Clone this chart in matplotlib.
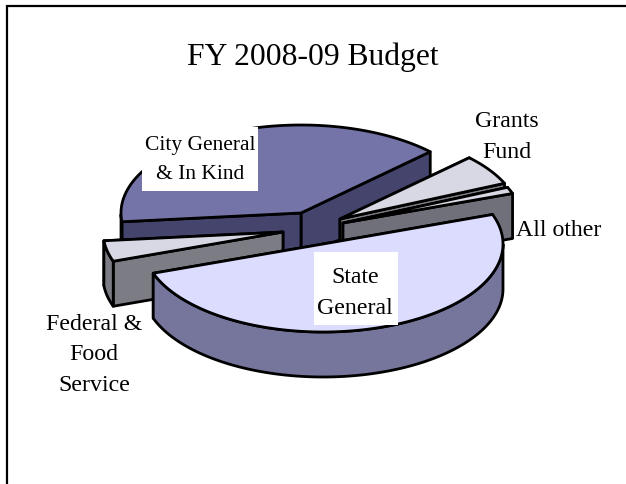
import numpy as np
from matplotlib import pyplot as plt
from matplotlib.patches import Polygon, Rectangle

plt.rcParams['font.family'] = ['Liberation Serif', 'DejaVu Serif']
plt.rcParams['hatch.linewidth'] = 0.35

# Share of the budget, percent
categories = ['State General', 'Federal & Food Service', 'City General & In Kind', 'Grants Fund', 'All other']
shares = [50.0, 3.8, 39.3, 5.6, 1.2]

# Pixel layout of the exploded pie
start_angle = 19.6
rx, ry, depth = 180, 88, 45
centers = {
    'State General': (323, 245),
    'Federal & Food Service': (283, 233),
    'City General & In Kind': (301, 214),
    'Grants Fund': (340, 220),
    'All other': (343, 224),
}
top_colors = {
    'State General': '#dcdcff',
    'Federal & Food Service': '#d8d8e4',
    'City General & In Kind': '#7474a8',
    'Grants Fund': '#d8d8e4',
    'All other': '#d8d8e4',
}
side_colors = {
    'State General': '#76769c',
    'Federal & Food Service': '#7c7c84',
    'City General & In Kind': '#44446c',
    'Grants Fund': '#7c7c84',
    'All other': '#70707a',
}
hatched = ['Federal & Food Service', 'Grants Fund', 'All other']
draw_order = ['City General & In Kind', 'Grants Fund', 'All other', 'Federal & Food Service', 'State General']

# slice angles, clockwise from the start angle
total = sum(shares)
ends = start_angle - np.cumsum(shares) * 360 / total
starts = np.concatenate([[start_angle], ends[:-1]])
spans = {c: (s, e) for c, s, e in zip(categories, starts, ends)}


def rim(center, a1, a2):
    t = np.radians(np.linspace(a1, a2, 120))
    return np.column_stack([center[0] + rx * np.cos(t), center[1] - ry * np.sin(t)])


fig = plt.figure(figsize=(6.26, 4.85), dpi=100)
ax = fig.add_axes([0, 0, 1, 1])
ax.set_xlim(0, 626)
ax.set_ylim(485, 0)
ax.axis('off')

# slide frame: only the top and left edges are in the image
ax.plot([7, 7, 626], [485, 7, 7], color='black', lw=1.6, solid_joinstyle='miter')

outline = dict(fc='none', ec='black', lw=2.0, joinstyle='round')
for name in draw_order:
    a1, a2 = spans[name]
    c = np.array(centers[name], dtype=float)
    h = '.' * 8 if name in hatched else None
    arc = rim(c, a1, a2)
    down = np.array([0, depth])
    # the two cut faces, far one first
    faces = [np.array([c, arc[0], arc[0] + down, c + down]),
             np.array([c, arc[-1], arc[-1] + down, c + down])]
    faces.sort(key=lambda f: f[1][1])
    for f in faces:
        ax.add_patch(Polygon(f, fc=side_colors[name], ec='none', hatch=h))
        ax.add_patch(Polygon(f, **outline))
    # outer wall, only the part facing the viewer
    t = np.linspace(a1, a2, 120)
    front = np.sin(np.radians(t)) < 0
    if front.any():
        wall = np.vstack([arc[front], (arc[front] + down)[::-1]])
        ax.add_patch(Polygon(wall, fc=side_colors[name], ec='none', hatch=h))
        ax.add_patch(Polygon(wall, **outline))
    top = np.vstack([c, arc])
    ax.add_patch(Polygon(top, fc=top_colors[name], ec='none', hatch=h))
    ax.add_patch(Polygon(top, **outline))

ax.text(313, 57, 'FY 2008-09 Budget', ha='center', va='center', fontsize=22.8)
ax.add_patch(Rectangle((142, 128), 116, 64, fc='white', ec='none', zorder=5))
ax.add_patch(Rectangle((314, 253), 84, 73, fc='white', ec='none', zorder=5))
label_style = dict(ha='center', va='center', fontsize=17.2, linespacing=1.59, zorder=6)
ax.text(200, 160, 'City General\n& In Kind', ha='center', va='center', fontsize=15.5, linespacing=1.65, zorder=6)
ax.text(355, 293, 'State\nGeneral', **label_style)
ax.text(507, 137, 'Grants\nFund', **label_style)
ax.text(559, 231, 'All other', **label_style)
ax.text(94, 355, 'Federal &\nFood\nService', **label_style)

fig.savefig('out.png', dpi=100)
